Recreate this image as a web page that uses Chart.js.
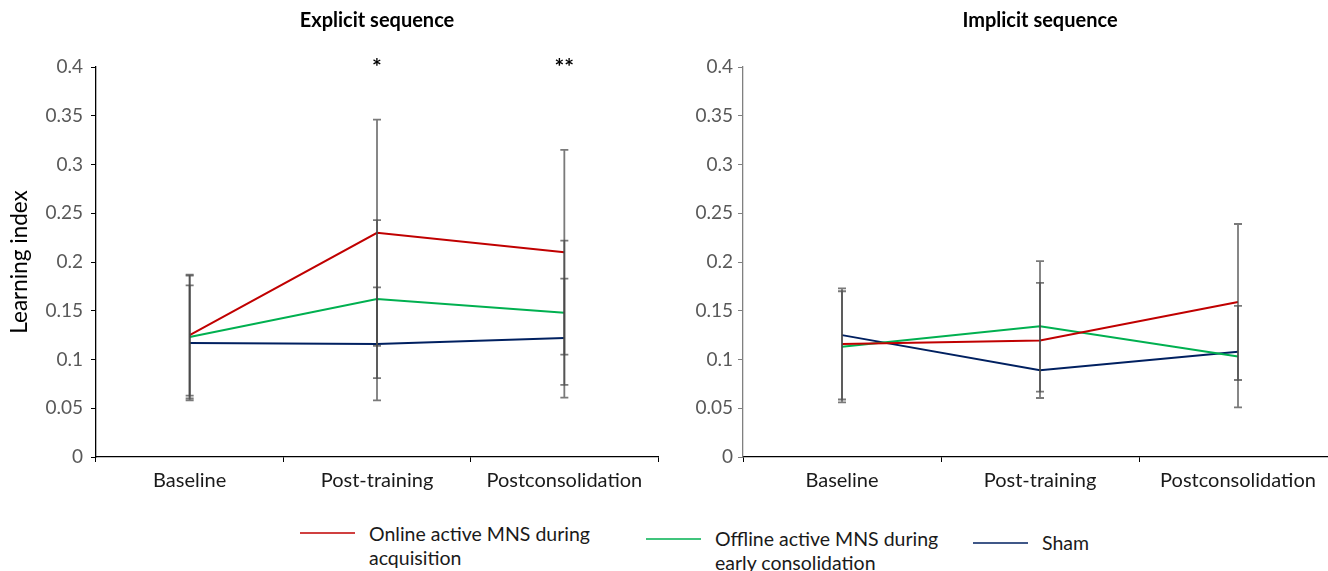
<!DOCTYPE html>
<html>
<head>
<meta charset="utf-8">
<script src="https://cdn.jsdelivr.net/npm/chart.js@4.4.1/dist/chart.umd.min.js"></script>
<style>
    body {
        margin: 0;
        width: 1328px;
        height: 571px;
        overflow: hidden;
        background: #ffffff;
        position: relative;
        font-family: Lato, 'Open Sans', sans-serif;
    }
    #explicitChart { position: absolute; left: 0; top: 0; }
    #implicitChart { position: absolute; left: 660px; top: 0; }
    .legend-swatch { position: absolute; height: 2px; opacity: 0.75; }
    .legend-text {
        position: absolute;
        font-size: 19.5px;
        line-height: 24px;
        color: #1a1a1a;
        white-space: nowrap;
    }
</style>
</head>
<body>
<canvas id="explicitChart" width="660" height="505"></canvas>
<canvas id="implicitChart" width="700" height="505"></canvas>
<div id="legend"></div>

<script>
// Categories and series values
const categories = ['Baseline', 'Post-training', 'Postconsolidation'];
const yTickValues = [0, 0.05, 0.1, 0.15, 0.2, 0.25, 0.3, 0.35, 0.4];

const seriesNames = [
    ['Online active MNS during', 'acquisition'],
    ['Offline active MNS during', 'early consolidation'],
    ['Sham']
];
const seriesColors = ['#C00000', '#00B050', '#002060'];

// Explicit sequence
const explicitOnline = [0.125, 0.230, 0.210];
const explicitOnlineErr = [0.062, 0.116, 0.105];
const explicitOffline = [0.123, 0.162, 0.148];
const explicitOfflineErr = [0.063, 0.081, 0.074];
const explicitSham = [0.117, 0.116, 0.122];
const explicitShamErr = [0.059, 0.058, 0.061];
const explicitMarks = ['', '*', '**'];

// Implicit sequence
const implicitOnline = [0.116, 0.1195, 0.159];
const implicitOnlineErr = [0.057, 0.059, 0.080];
const implicitOffline = [0.113, 0.134, 0.103];
const implicitOfflineErr = [0.057, 0.067, 0.052];
const implicitSham = [0.125, 0.089, 0.108];
const implicitShamErr = [null, null, null];
const implicitMarks = ['', '', ''];

const FONT = 'Lato';

// Draws vertical error bars with caps for every dataset that has errors
const errorBarPlugin = {
    id: 'errorBars',
    afterDatasetsDraw(chart) {
        const ctx = chart.ctx;
        const yScale = chart.scales.y;
        ctx.save();
        ctx.strokeStyle = 'rgba(70, 70, 70, 0.72)';
        ctx.lineWidth = 1.8;
        chart.data.datasets.forEach((ds, di) => {
            if (!ds.errors) return;
            const meta = chart.getDatasetMeta(di);
            ds.data.forEach((v, i) => {
                const e = ds.errors[i];
                if (e == null) return;
                const x = meta.data[i].x;
                const top = yScale.getPixelForValue(v + e);
                const bot = yScale.getPixelForValue(v - e);
                ctx.beginPath();
                ctx.moveTo(x, top);
                ctx.lineTo(x, bot);
                ctx.moveTo(x - 4, top);
                ctx.lineTo(x + 4, top);
                ctx.moveTo(x - 4, bot);
                ctx.lineTo(x + 4, bot);
                ctx.stroke();
            });
        });
        ctx.restore();
    }
};

// Significance asterisks above the plot area
const sigMarksPlugin = {
    id: 'sigMarks',
    afterDraw(chart, args, opts) {
        const marks = opts.marks || [];
        const ctx = chart.ctx;
        ctx.save();
        ctx.fillStyle = '#000000';
        ctx.font = 'bold 23px ' + FONT;
        ctx.textAlign = 'center';
        ctx.textBaseline = 'middle';
        marks.forEach((m, i) => {
            if (!m) return;
            const x = chart.scales.x.getPixelForValue(i);
            ctx.fillText(m, x, chart.chartArea.top + 1);
        });
        ctx.restore();
    }
};

function makeDataset(idx, values, errors) {
    return {
        label: seriesNames[idx].join(' '),
        data: values,
        errors: errors,
        borderColor: seriesColors[idx],
        backgroundColor: seriesColors[idx],
        borderWidth: 2,
        pointRadius: 0,
        tension: 0,
        fill: false
    };
}

function makeChart(canvasId, opts) {
    const ctx = document.getElementById(canvasId).getContext('2d');
    return new Chart(ctx, {
        type: 'line',
        data: {
            labels: categories,
            datasets: [
                makeDataset(0, opts.online, opts.onlineErr),
                makeDataset(1, opts.offline, opts.offlineErr),
                makeDataset(2, opts.sham, opts.shamErr)
            ]
        },
        options: {
            responsive: false,
            animation: false,
            layout: {
                padding: { left: 0, top: 0, right: opts.padRight, bottom: 0 }
            },
            plugins: {
                legend: { display: false },
                tooltip: { enabled: false },
                title: {
                    display: true,
                    text: opts.title,
                    fullSize: false,
                    color: '#000000',
                    font: { family: FONT, size: 20, weight: 'bold', lineHeight: 1.2 },
                    padding: { top: 9, bottom: 34 }
                },
                sigMarks: { marks: opts.marks }
            },
            scales: {
                x: {
                    offset: true,
                    grid: {
                        offset: true,
                        drawOnChartArea: false,
                        tickLength: 5,
                        color: '#000000'
                    },
                    border: { color: '#000000', width: 1.3 },
                    ticks: {
                        color: '#1a1a1a',
                        padding: 7,
                        maxRotation: 0,
                        font: { family: FONT, size: 20 }
                    },
                    afterFit: (scale) => { scale.height = 48; }
                },
                y: {
                    min: 0,
                    max: 0.4,
                    afterBuildTicks: (scale) => {
                        scale.ticks = yTickValues.map(v => ({ value: v }));
                    },
                    grid: {
                        drawOnChartArea: false,
                        tickLength: 5,
                        color: opts.axisColor
                    },
                    border: { color: opts.axisColor, width: 1.3 },
                    ticks: {
                        color: '#595959',
                        padding: opts.tickPad,
                        font: { family: FONT, size: 19 },
                        callback: (v) => String(Number(v.toFixed(2)))
                    },
                    title: {
                        display: opts.yTitle !== '',
                        text: opts.yTitle,
                        color: '#000000',
                        font: { family: FONT, size: 22.5 },
                        padding: { top: 6, bottom: 0 }
                    },
                    afterFit: (scale) => { scale.width = opts.axisWidth; }
                }
            }
        },
        plugins: [errorBarPlugin, sigMarksPlugin]
    });
}

makeChart('explicitChart', {
    title: 'Explicit sequence',
    online: explicitOnline, onlineErr: explicitOnlineErr,
    offline: explicitOffline, offlineErr: explicitOfflineErr,
    sham: explicitSham, shamErr: explicitShamErr,
    marks: explicitMarks,
    yTitle: 'Learning index',
    axisWidth: 96,
    padRight: 2,
    tickPad: 8,
    axisColor: '#000000'
});

makeChart('implicitChart', {
    title: 'Implicit sequence',
    online: implicitOnline, onlineErr: implicitOnlineErr,
    offline: implicitOffline, offlineErr: implicitOfflineErr,
    sham: implicitSham, shamErr: implicitShamErr,
    marks: implicitMarks,
    yTitle: '',
    axisWidth: 83,
    padRight: 23,
    tickPad: 5,
    axisColor: '#808080'
});

// Legend laid out like the Excel original (wrapped, staggered entries)
const legendPos = [
    { swatchX: 300, swatchY: 532, textX: 369, textY: 522 },
    { swatchX: 646, swatchY: 538, textX: 715, textY: 527 },
    { swatchX: 973, swatchY: 542, textX: 1042, textY: 531 }
];
const legendEl = document.getElementById('legend');
seriesNames.forEach((lines, i) => {
    const p = legendPos[i];
    const sw = document.createElement('div');
    sw.className = 'legend-swatch';
    sw.style.left = p.swatchX + 'px';
    sw.style.top = p.swatchY + 'px';
    sw.style.width = '55px';
    sw.style.background = seriesColors[i];
    legendEl.appendChild(sw);

    const tx = document.createElement('div');
    tx.className = 'legend-text';
    tx.style.left = p.textX + 'px';
    tx.style.top = p.textY + 'px';
    tx.innerHTML = lines.join('<br>');
    legendEl.appendChild(tx);
});
</script>
</body>
</html>
